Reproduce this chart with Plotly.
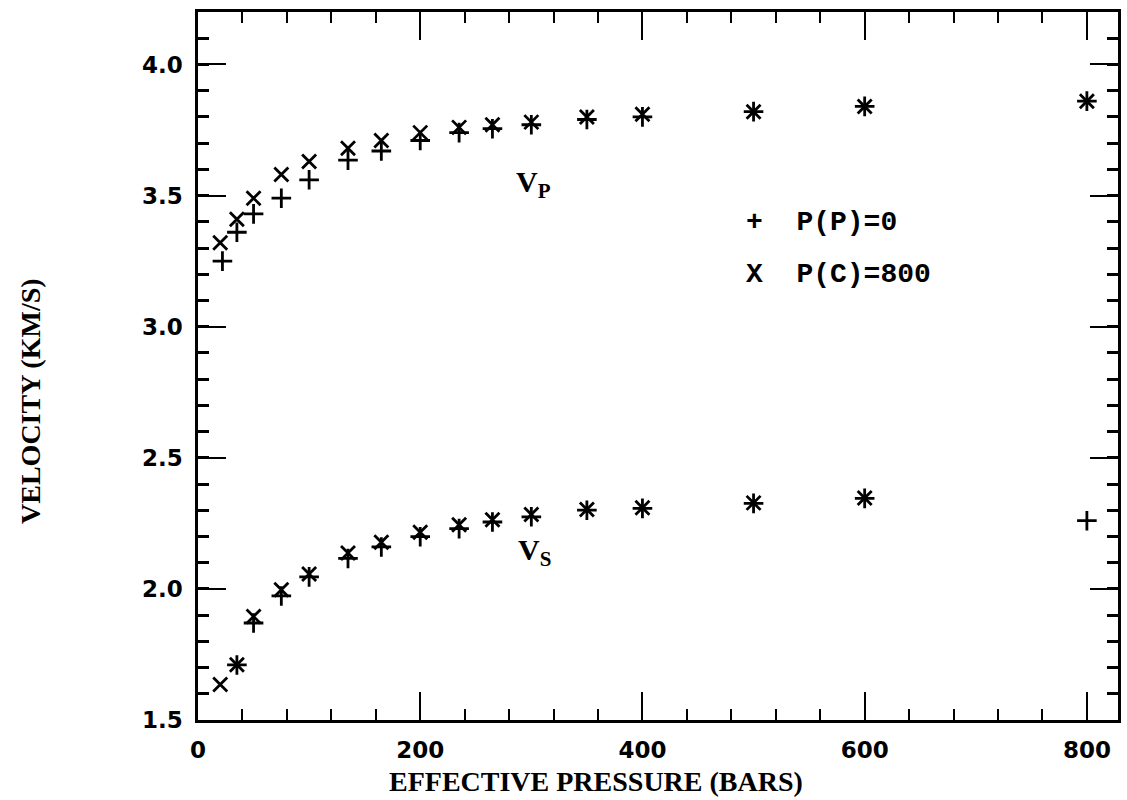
import plotly.graph_objects as go

# Effective pressure (bars)
p_vp_pp0 = [22, 35, 50, 75, 100, 135, 165, 200, 235, 265, 300, 350, 400, 500, 600, 800]
vp_pp0 = [3.25, 3.36, 3.43, 3.49, 3.56, 3.635, 3.67, 3.71, 3.74, 3.755, 3.77, 3.79, 3.80, 3.82, 3.84, 3.86]

p_vp_pc800 = [20, 35, 50, 75, 100, 135, 165, 200, 235, 265, 300, 350, 400, 500, 600, 800]
vp_pc800 = [3.32, 3.41, 3.49, 3.58, 3.63, 3.68, 3.71, 3.74, 3.76, 3.77, 3.78, 3.80, 3.81, 3.82, 3.84, 3.86]

p_vs_pp0 = [35, 50, 75, 100, 135, 165, 200, 235, 265, 300, 350, 400, 500, 600, 800]
vs_pp0 = [1.71, 1.87, 1.973, 2.046, 2.116, 2.16, 2.199, 2.23, 2.255, 2.275, 2.30, 2.307, 2.326, 2.345, 2.26]

p_vs_pc800 = [20, 35, 50, 75, 100, 135, 165, 200, 235, 265, 300, 350, 400, 500, 600]
vs_pc800 = [1.635, 1.711, 1.895, 1.997, 2.057, 2.137, 2.178, 2.216, 2.245, 2.264, 2.284, 2.303, 2.309, 2.328, 2.347]

x_ticks = [0, 200, 400, 600, 800]
y_ticks = [1.5, 2.0, 2.5, 3.0, 3.5, 4.0]

serif = "Liberation Serif"
mono = "Liberation Mono"
sans = "DejaVu Sans"

fig = go.Figure()

def add(px, vals, sym):
    fig.add_trace(go.Scatter(
        x=px, y=vals, mode="markers", showlegend=False,
        marker=dict(symbol=sym, size=14, color="black",
                    line=dict(color="black", width=2.8)),
    ))

add(p_vp_pp0, vp_pp0, "cross-thin")
add(p_vs_pp0, vs_pp0, "cross-thin")
add(p_vp_pc800, vp_pc800, "x-thin")
add(p_vs_pc800, vs_pc800, "x-thin")

axis_common = dict(
    showline=True, linecolor="black", linewidth=2.5, mirror="allticks",
    ticks="inside", tickcolor="black", tickwidth=2.2, ticklen=28,
    showgrid=False, zeroline=False,
    tickfont=dict(family=sans, size=23, color="black", weight="bold"),
)

fig.update_layout(
    width=1127, height=800,
    margin=dict(l=198, r=6, t=12, b=80),
    paper_bgcolor="white", plot_bgcolor="white",
    xaxis=dict(range=[0, 828], tickvals=x_ticks, ticktext=[str(v) for v in x_ticks],
               minor=dict(dtick=40, tick0=0, ticks="inside", ticklen=11,
                          tickwidth=2, tickcolor="black"),
               ticklabelstandoff=8,
               **axis_common),
    yaxis=dict(range=[1.5, 4.2], tickvals=y_ticks, ticktext=[f"{v:.1f}" for v in y_ticks],
               minor=dict(dtick=0.1, tick0=1.5, ticks="inside", ticklen=11,
                          tickwidth=2.5, tickcolor="black"),
               ticklabelstandoff=8,
               **axis_common),
)

fig.add_annotation(xref="paper", yref="paper", x=0.433, y=-0.0862,
                   text="<b>EFFECTIVE PRESSURE (BARS)</b>", showarrow=False,
                   xanchor="center", yanchor="middle",
                   font=dict(family=serif, size=28, color="black"))
fig.add_annotation(xref="paper", yref="paper", x=-0.182, y=0.45,
                   text="<b>VELOCITY (KM/S)</b>", showarrow=False, textangle=-90,
                   xanchor="center", yanchor="middle",
                   font=dict(family=serif, size=28, color="black"))

# Curve labels
fig.add_annotation(x=302, y=3.545, text="<b>V<sub>P</sub></b>", showarrow=False,
                   xanchor="center", yanchor="middle",
                   font=dict(family=serif, size=30, color="black"))
fig.add_annotation(x=303, y=2.139, text="<b>V<sub>S</sub></b>", showarrow=False,
                   xanchor="center", yanchor="middle",
                   font=dict(family=serif, size=30, color="black"))

# Legend as text
fig.add_annotation(x=491, y=3.399, text="<b>+  P(P)=0</b>", showarrow=False,
                   xanchor="left", yanchor="middle",
                   font=dict(family=mono, size=28, color="black"))
fig.add_annotation(x=491, y=3.199, text="<b>X  P(C)=800</b>", showarrow=False,
                   xanchor="left", yanchor="middle",
                   font=dict(family=mono, size=28, color="black"))

fig.write_html("out.html")
